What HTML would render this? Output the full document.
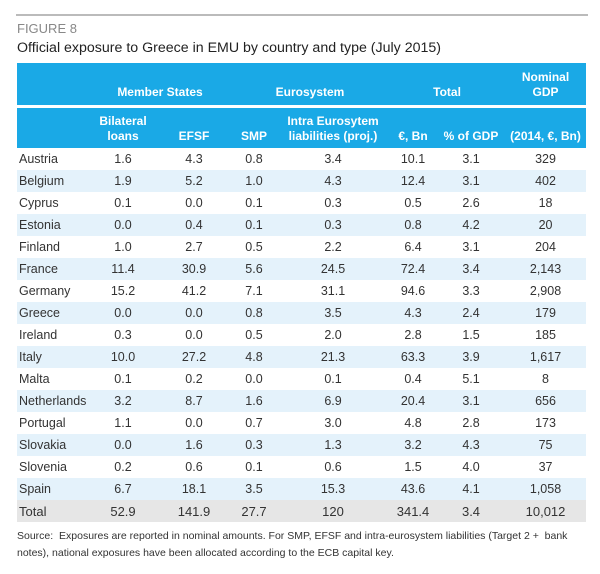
<!DOCTYPE html>
<html><head><meta charset="utf-8"><style>
body{margin:0;width:600px;height:574px;background:#fff;font-family:"Liberation Sans",sans-serif;position:relative;overflow:hidden}
.rule{position:absolute;left:16px;top:14px;width:572px;height:2px;background:#bbb}
.fig{position:absolute;left:17px;top:21px;font-size:13px;color:#888}
.title{position:absolute;left:17px;top:40px;font-size:14.2px;color:#222}
table{position:absolute;left:17px;top:63px;width:569px;border-collapse:collapse;font-size:12.5px;color:#333;table-layout:fixed}
td,th{padding:0;text-align:center}
th{color:#fff;font-weight:bold;background:#1aa9e6;font-size:12px;line-height:15px}
tr.h1 th{height:42px;vertical-align:bottom;padding-bottom:5px;box-sizing:border-box}
tr.gap td{height:3px;background:#fff}
tr.h2 th{height:40px;vertical-align:bottom;padding-bottom:4px;box-sizing:border-box}
tbody td{height:22px}
tbody tr:nth-child(even) td{background:#e4f2fb}
tbody tr.total td{background:#e6e6e6;font-size:13px}
td:first-child{text-align:left;padding-left:2px}
.src{position:absolute;left:17px;top:528px;width:570px;font-size:10.5px;line-height:17px;color:#333}
</style></head><body>
<div class="rule"></div>
<div class="fig">FIGURE 8</div>
<div class="title">Official exposure to Greece in EMU by country and type (July 2015)</div>
<table>
<colgroup><col style="width:72px"><col style="width:68px"><col style="width:74px"><col style="width:46px"><col style="width:112px"><col style="width:48px"><col style="width:68px"><col style="width:81px"></colgroup>
<thead>
<tr class="h1"><th></th><th colspan="2">Member States</th><th colspan="2">Eurosystem</th><th colspan="2">Total</th><th>Nominal<br>GDP</th></tr>
<tr class="gap"><td colspan="8"></td></tr>
<tr class="h2"><th></th><th>Bilateral<br>loans</th><th>EFSF</th><th>SMP</th><th>Intra Eurosytem<br>liabilities (proj.)</th><th>€, Bn</th><th>% of GDP</th><th style="white-space:nowrap">(2014, €, Bn)</th></tr>
</thead>
<tbody id="tb"></tbody>
</table>
<div class="src">Source:&nbsp; Exposures are reported in nominal amounts. For SMP, EFSF and intra-eurosystem liabilities (Target 2 + &nbsp;bank notes), national exposures have been allocated according to the ECB capital key.</div>
<script>
const countries=["Austria","Belgium","Cyprus","Estonia","Finland","France","Germany","Greece","Ireland","Italy","Malta","Netherlands","Portugal","Slovakia","Slovenia","Spain","Total"];
const bilateral=["1.6","1.9","0.1","0.0","1.0","11.4","15.2","0.0","0.3","10.0","0.1","3.2","1.1","0.0","0.2","6.7","52.9"];
const efsf=["4.3","5.2","0.0","0.4","2.7","30.9","41.2","0.0","0.0","27.2","0.2","8.7","0.0","1.6","0.6","18.1","141.9"];
const smp=["0.8","1.0","0.1","0.1","0.5","5.6","7.1","0.8","0.5","4.8","0.0","1.6","0.7","0.3","0.1","3.5","27.7"];
const intra=["3.4","4.3","0.3","0.3","2.2","24.5","31.1","3.5","2.0","21.3","0.1","6.9","3.0","1.3","0.6","15.3","120"];
const totalBn=["10.1","12.4","0.5","0.8","6.4","72.4","94.6","4.3","2.8","63.3","0.4","20.4","4.8","3.2","1.5","43.6","341.4"];
const pctGdp=["3.1","3.1","2.6","4.2","3.1","3.4","3.3","2.4","1.5","3.9","5.1","3.1","2.8","4.3","4.0","4.1","3.4"];
const gdp=["329","402","18","20","204","2,143","2,908","179","185","1,617","8","656","173","75","37","1,058","10,012"];
const tb=document.getElementById('tb');
countries.forEach((c,i)=>{
  const tr=document.createElement('tr');
  
  
  if(c==='Total')tr.className='total';
  [c,bilateral[i],efsf[i],smp[i],intra[i],totalBn[i],pctGdp[i],gdp[i]].forEach(v=>{
    const td=document.createElement('td');td.textContent=v;tr.appendChild(td);
  });
  tb.appendChild(tr);
});
</script>
</body></html>
